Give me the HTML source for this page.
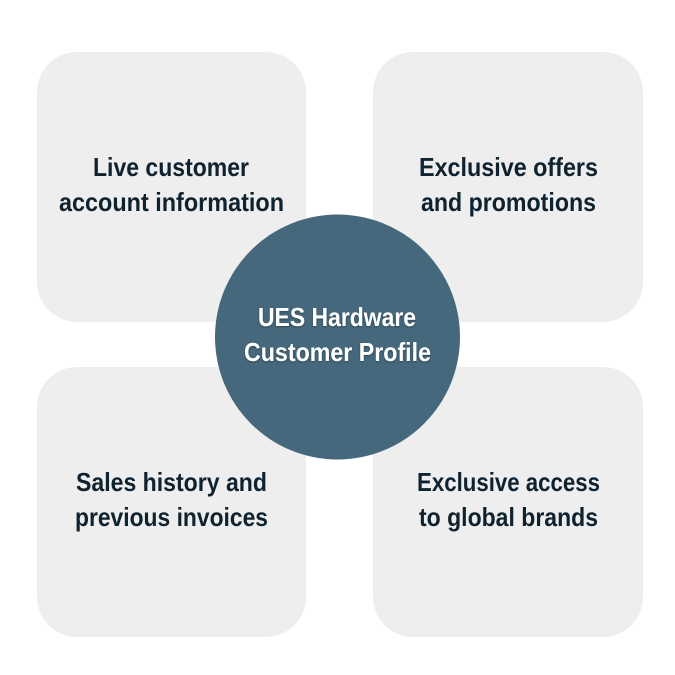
<!DOCTYPE html>
<html><head><meta charset="utf-8"><style>
html,body{margin:0;padding:0;background:#fff;}
svg{display:block}
text{font-family:"Liberation Sans",sans-serif;font-weight:bold;font-size:26px;text-anchor:middle}
.d{fill:#0f2230}
.w{fill:#fff}
</style></head><body>
<svg width="675" height="675" viewBox="0 0 675 675">
<defs><filter id="s" x="-10%" y="-10%" width="120%" height="130%"><feDropShadow dx="0" dy="1" stdDeviation="1" flood-color="#000" flood-opacity="0.35"/></filter></defs>
<rect x="37" y="52" width="269" height="270" rx="40" fill="#eeeeee"/>
<rect x="373" y="52" width="270" height="270" rx="40" fill="#eeeeee"/>
<rect x="37" y="367" width="269" height="270" rx="40" fill="#eeeeee"/>
<rect x="373" y="367" width="270" height="270" rx="40" fill="#eeeeee"/>
<text class="d" x="171" y="176" textLength="156" lengthAdjust="spacingAndGlyphs">Live customer</text>
<text class="d" x="171.5" y="211" textLength="225" lengthAdjust="spacingAndGlyphs">account information</text>
<text class="d" x="508.5" y="176" textLength="179" lengthAdjust="spacingAndGlyphs">Exclusive offers</text>
<text class="d" x="508.5" y="211" textLength="175" lengthAdjust="spacingAndGlyphs">and promotions</text>
<text class="d" x="171.5" y="491" textLength="191" lengthAdjust="spacingAndGlyphs">Sales history and</text>
<text class="d" x="171.5" y="526" textLength="193" lengthAdjust="spacingAndGlyphs">previous invoices</text>
<text class="d" x="508.5" y="491" textLength="183" lengthAdjust="spacingAndGlyphs">Exclusive access</text>
<text class="d" x="508.5" y="526" textLength="179" lengthAdjust="spacingAndGlyphs">to global brands</text>
<circle cx="337.5" cy="337" r="122.5" fill="#45687c"/>
<g filter="url(#s)">
<text class="w" x="337" y="326" textLength="158" lengthAdjust="spacingAndGlyphs">UES Hardware</text>
<text class="w" x="337.5" y="361" textLength="187" lengthAdjust="spacingAndGlyphs">Customer Profile</text>
</g>
</svg>
</body></html>
